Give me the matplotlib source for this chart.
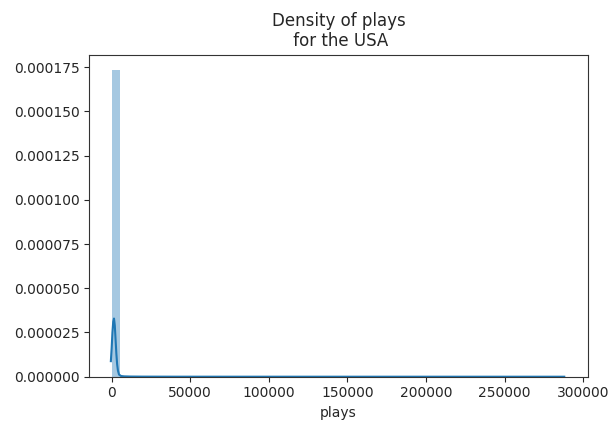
import numpy as np
import matplotlib.pyplot as plt

# histogram of plays (density), 50 equal-width bins
bin_width = 5500
bin_heights = [1.733e-4, 4.0e-7, 1.5e-7, 8e-8, 5e-8, 4e-8, 3e-8, 2e-8, 2e-8, 1.5e-8,
               1e-8, 1e-8, 1e-8, 8e-9, 8e-9, 6e-9, 6e-9, 5e-9, 5e-9, 4e-9,
               4e-9, 3e-9, 3e-9, 3e-9, 2e-9, 2e-9, 2e-9, 2e-9, 2e-9, 1e-9,
               1e-9, 1e-9, 1e-9, 1e-9, 1e-9, 1e-9, 1e-9, 1e-9, 1e-9, 1e-9,
               1e-9, 1e-9, 1e-9, 1e-9, 1e-9, 1e-9, 1e-9, 1e-9, 1e-9, 1e-9]

# kernel density estimate
kde_x = [-500, 0, 500, 1000, 1500, 2000, 2500, 3000, 3500, 4000, 4700, 6000,
         8000, 12000, 20000, 40000, 80000, 150000, 220000, 288000]
kde_y = [8.8e-6, 1.6e-5, 2.5e-5, 3.1e-5, 3.29e-5, 2.9e-5, 2.1e-5, 1.3e-5, 7e-6,
         3.5e-6, 1.2e-6, 4e-7, 2e-7, 1e-7, 5e-8, 2e-8, 1e-8, 5e-9, 3e-9, 1e-9]

xticks = [0, 50000, 100000, 150000, 200000, 250000, 300000]
yticks = [0.0, 0.000025, 0.00005, 0.000075, 0.0001, 0.000125, 0.00015, 0.000175]

dark = '#262626'
plt.rcParams['text.color'] = dark
plt.rcParams['axes.labelcolor'] = dark
plt.rcParams['xtick.color'] = dark
plt.rcParams['ytick.color'] = dark
plt.rcParams['axes.edgecolor'] = '#333333'

fig = plt.figure(figsize=(6.1, 4.25), dpi=100)
ax = fig.add_axes([0.1467, 0.1136, 0.8167, 0.7577])

edges = np.arange(len(bin_heights)) * bin_width
ax.bar(edges, bin_heights, width=bin_width, align='edge',
       color='#1f77b4', alpha=0.4, linewidth=0)
ax.plot(kde_x, kde_y, color='#1f77b4', lw=1.5)

ax.set_xticks(xticks)
ax.set_yticks(yticks)
ax.set_yticklabels(['%.6f' % t for t in yticks])
ax.set_xlim(-14100, 302900)
ax.set_ylim(0, 0.0001820)
ax.set_xlabel('plays')
ax.set_title('Density of plays\n for the USA')

fig.savefig('out.png', dpi=100)
